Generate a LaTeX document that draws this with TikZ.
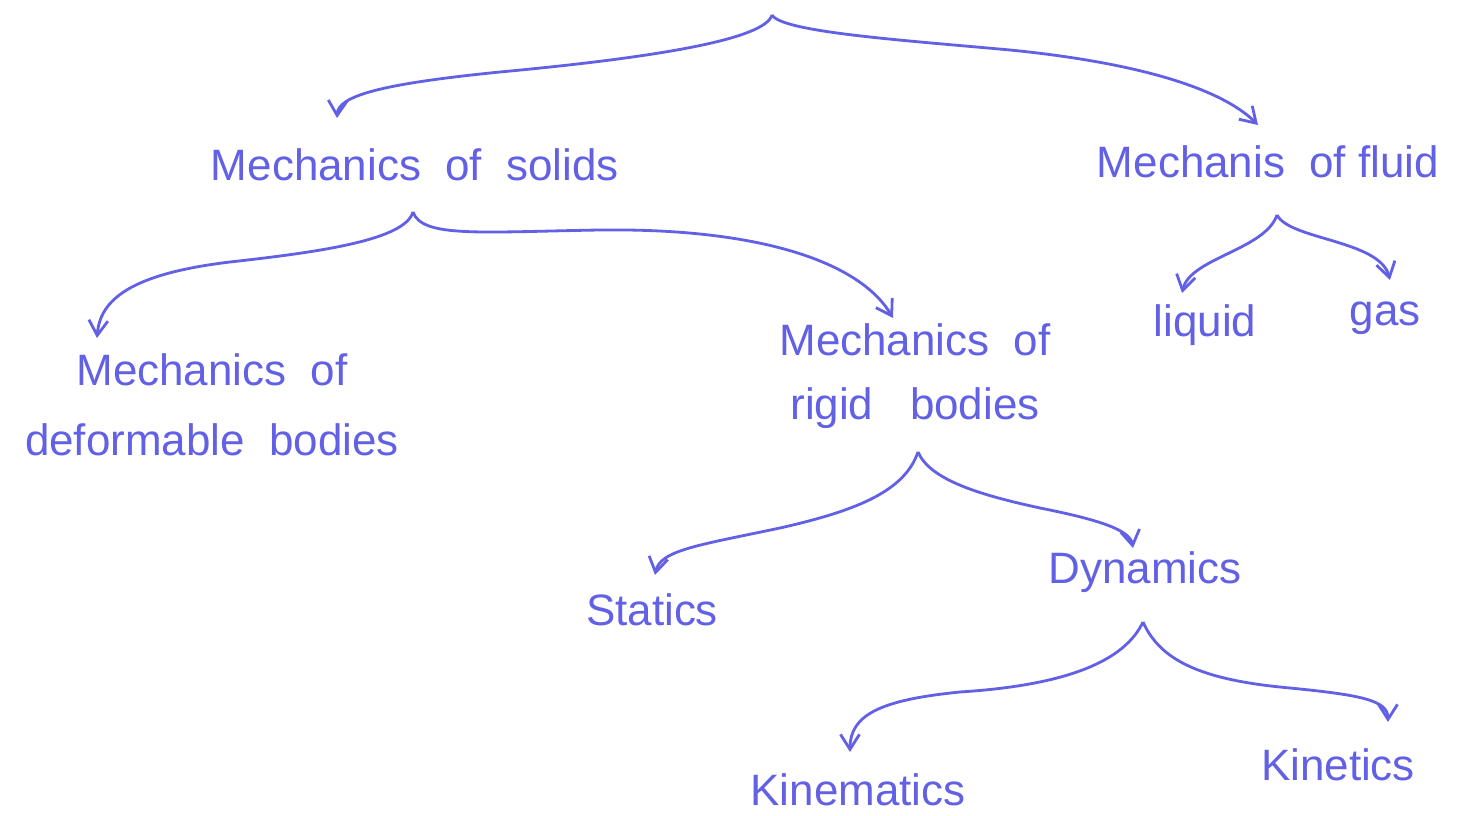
\documentclass[tikz,border=0pt]{standalone}
\usepackage{fontspec}
\setmainfont{Liberation Sans}
\usetikzlibrary{arrows.meta}
\definecolor{ink}{RGB}{98,96,228}
\tikzset{
  lbl/.style={text=ink, font=\fontsize{12.5}{18}\selectfont, align=center, inner sep=1pt},
  br/.style={draw=ink, line width=0.8pt, -{Straight Barb[length=1.5mm,width=1.9mm]}}
}
\begin{document}
\begin{tikzpicture}[x=0.01cm,y=-0.01cm]
\useasboundingbox (0,0) rectangle (1459,816);
% nodes
\node[lbl] (solids) at (415,165) {Mechanics\ \ of\ \ solids};
\node[lbl] (fluid) at (1268,162) {Mechanis\ \ of fluid};
\node[lbl, font=\fontsize{12.5}{20}\selectfont] (deform) at (212,405) {Mechanics\ \ of\\deformable\ \ bodies};
\node[lbl] (rigid) at (915,376) {Mechanics\ \ of\\rigid\ \ \ bodies};
\node[lbl] (liquid) at (1205,325) {liquid};
\node[lbl] (gas) at (1385,318) {gas};
\node[lbl] (statics) at (652,610) {Statics};
\node[lbl] (dyn) at (1145,572) {Dynamics};
\node[lbl] (kinem) at (858,790) {Kinematics};
\node[lbl] (kinet) at (1338,765) {Kinetics};
% apex points
\coordinate (a0) at (772,15);
\coordinate (a1) at (413,212);
\coordinate (a2) at (1277,215);
\coordinate (a3) at (918,452);
\coordinate (a4) at (1143,622);
% arrow ends
\coordinate (t0l) at (337,118);
\coordinate (t0r) at (1258,125);
\coordinate (t1l) at (97,338);
\coordinate (t1r) at (893,318);
\coordinate (t2l) at (1182,293);
\coordinate (t2r) at (1390,280);
\coordinate (t3l) at (655,575);
\coordinate (t3r) at (1133,548);
\coordinate (t4l) at (850,752);
\coordinate (t4r) at (1388,722);
% braces
\draw[br] (a0) .. controls (765,40) and (650,58) .. (500,72) .. controls (380,84) and (338,96) .. (t0l);
\draw[br] (a0) .. controls (782,32) and (900,40) .. (1010,50) .. controls (1150,64) and (1225,92) .. (t0r);
\draw[br] (a1) .. controls (405,240) and (320,252) .. (230,262) .. controls (130,274) and (100,300) .. (t1l);
\draw[br] (a1) .. controls (422,238) and (480,232) .. (600,230) .. controls (760,228) and (860,262) .. (t1r);
\draw[br] (a2) .. controls (1265,250) and (1190,258) .. (t2l);
\draw[br] (a2) .. controls (1290,240) and (1380,240) .. (t2r);
\draw[br] (a3) .. controls (905,490) and (860,510) .. (780,528) .. controls (700,545) and (660,550) .. (t3l);
\draw[br] (a3) .. controls (930,480) and (980,495) .. (1040,508) .. controls (1100,520) and (1130,530) .. (t3r);
\draw[br] (a4) .. controls (1125,660) and (1070,685) .. (960,692) .. controls (880,700) and (850,715) .. (t4l);
\draw[br] (a4) .. controls (1160,660) and (1200,680) .. (1290,688) .. controls (1360,695) and (1388,700) .. (t4r);
\end{tikzpicture}
\end{document}
